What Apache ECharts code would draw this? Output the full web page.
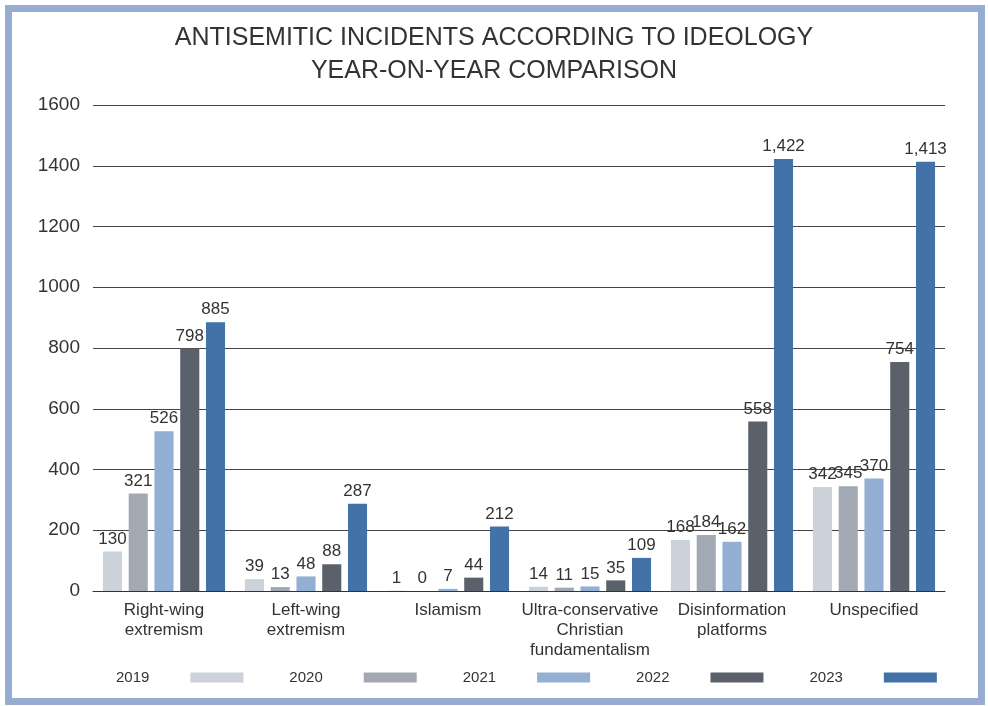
<!DOCTYPE html>
<html>
<head>
<meta charset="utf-8">
<script src="https://cdn.jsdelivr.net/npm/echarts@6/dist/echarts.min.js"></script>
<style>
html,body{margin:0;padding:0;background:#fff;}
.frame{position:absolute;left:5px;top:5px;width:966px;height:686px;border:7px solid #97acd1;background:#fff;}
#chart{position:absolute;left:0;top:0;width:988px;height:706px;}
</style>
</head>
<body>
<div class="frame"></div>
<div id="chart"></div>
<script>
// data
var categories = ['Right-wing\nextremism', 'Left-wing\nextremism', 'Islamism',
    'Ultra-conservative\nChristian\nfundamentalism', 'Disinformation\nplatforms', 'Unspecified'];
var years = ['2019', '2020', '2021', '2022', '2023'];
var v2019 = [130, 39, 1, 14, 168, 342];
var v2020 = [321, 13, 0, 11, 184, 345];
var v2021 = [526, 48, 7, 15, 162, 370];
var v2022 = [798, 88, 44, 35, 558, 754];
var v2023 = [885, 287, 212, 109, 1422, 1413];
var yearColors = ['#cbd2da', '#a3a9b2', '#93afd3', '#5a616b', '#4372a8'];

var seriesValues = [v2019, v2020, v2021, v2022, v2023];
var font = 'Liberation Sans, Arial, sans-serif';

var chart = echarts.init(document.getElementById('chart'));
var option = {
    backgroundColor: 'transparent',
    color: yearColors,
    title: {
        text: 'ANTISEMITIC INCIDENTS ACCORDING TO IDEOLOGY\nYEAR-ON-YEAR COMPARISON',
        left: 'center',
        top: 17,
        textStyle: {
            fontFamily: font,
            fontWeight: 'normal',
            fontSize: 25,
            lineHeight: 33,
            color: '#333'
        }
    },
    legend: {
        left: 111,
        top: 665,
        align: 'right',
        itemWidth: 53,
        itemHeight: 10,
        itemGap: 46,
        icon: 'rect',
        textStyle: {
            fontFamily: font,
            fontSize: 15,
            color: '#333',
            padding: [0, 36, 0, 0]
        },
        data: years
    },
    grid: {
        left: 93,
        right: 43,
        top: 105,
        bottom: 115
    },
    xAxis: {
        type: 'category',
        data: categories,
        axisTick: {show: false},
        axisLine: {lineStyle: {color: '#333', width: 1}},
        axisLabel: {
            fontFamily: font,
            fontSize: 17,
            color: '#333',
            lineHeight: 20,
            margin: 9,
            interval: 0
        }
    },
    yAxis: {
        type: 'value',
        min: 0,
        max: 1600,
        interval: 200,
        axisLine: {show: false},
        axisTick: {show: false},
        axisLabel: {
            fontFamily: font,
            fontSize: 19,
            color: '#333',
            margin: 13,
            formatter: function (v) { return String(v); }
        },
        splitLine: {lineStyle: {color: '#444', width: 1}}
    },
    series: years.map(function (y, i) {
        return {
            name: y,
            type: 'bar',
            data: seriesValues[i],
            barGap: '35%',
            barCategoryGap: '14%',
            itemStyle: {color: yearColors[i]},
            label: {
                show: true,
                position: 'top',
                distance: 4,
                fontFamily: font,
                fontSize: 17,
                color: '#333',
                formatter: function (p) {
                    return p.value.toLocaleString('en-US');
                }
            }
        };
    })
};
chart.setOption(option);
</script>
</body>
</html>
